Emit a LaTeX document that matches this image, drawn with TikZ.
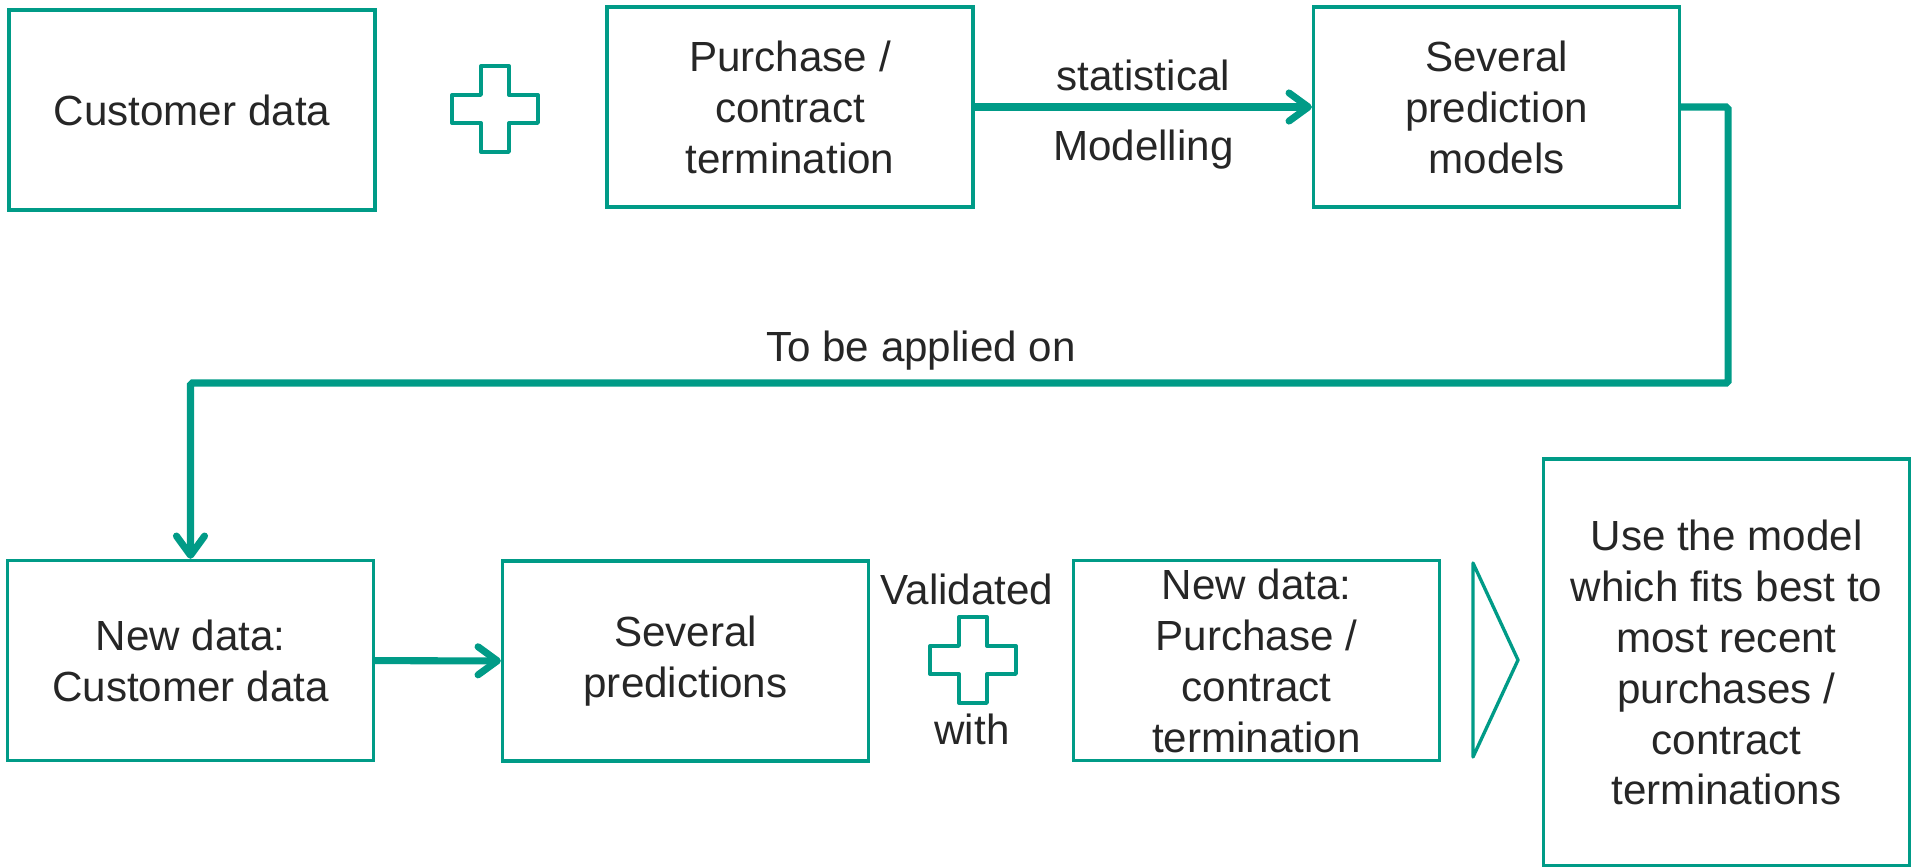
\documentclass[tikz,border=0pt]{standalone}
\usepackage{fontspec}
\setmainfont{Liberation Sans}
\usetikzlibrary{arrows.meta}
\definecolor{teal}{RGB}{0,155,135}
\definecolor{ink}{RGB}{38,38,38}
\tikzset{
  box/.style={draw=teal, line width=1.9pt, align=center, inner sep=0pt,
    minimum width=7.32cm, minimum height=4cm, text=ink,
    font=\fontsize{24}{29}\selectfont},
  lbl/.style={text=ink, font=\fontsize{24}{29}\selectfont},
  flow/.style={draw=teal, line width=4pt,
    -{Straight Barb[length=11pt,width=16pt,round]}},
  outl/.style={draw=teal, line width=1.9pt, line join=round},
  plussign/.pic={\draw[outl] (-14,-43) -- (14,-43) -- (14,-14) -- (43,-14) -- (43,14)
    -- (14,14) -- (14,43) -- (-14,43) -- (-14,14) -- (-43,14) -- (-43,-14) -- (-14,-14) -- cycle;}
}

\begin{document}
\begin{tikzpicture}[x=0.02cm,y=-0.02cm]
\useasboundingbox (0,0) rectangle (1912,866);
% top row
\node[box] (cust) at (192,110) {Customer data};
\pic at (495,109) {plussign};
\node[box] (purch) at (790,107) {Purchase /\\contract\\termination};
\node[box] (models) at (1496.5,107) {Several\\prediction\\models};
\draw[flow] (purch) -- node[lbl,above=4pt]{statistical} node[lbl,below=8pt]{Modelling} (models);
% back to the second row
\coordinate (turn) at (1728,383);
\node[box] (newcust) at (190.5,660.5) {New data:\\Customer data};
\draw[flow,rounded corners=1pt] (models.east) -| (turn) -| (newcust.north);
\node[lbl] (apply) at (921,351) {To be applied on};
% bottom row
\node[box] (preds) at (685.5,661) {Several\\predictions};
\draw[flow] (newcust) -- (preds);
\node[lbl] (valid) at (967,589) {Validated};
\pic at (973,660) {plussign};
\node[lbl] (with) at (972,729) {with};
\node[box] (newpurch) at (1256.5,660.5) {New data:\\Purchase /\\contract\\termination};
\draw[outl] (1473,563) -- (1518,660) -- (1473,757) -- cycle;
\node[box,minimum height=8.14cm] (best) at (1726.5,662.5) {Use the model\\which fits best to\\most recent\\purchases /\\contract\\terminations};
\end{tikzpicture}
\end{document}
